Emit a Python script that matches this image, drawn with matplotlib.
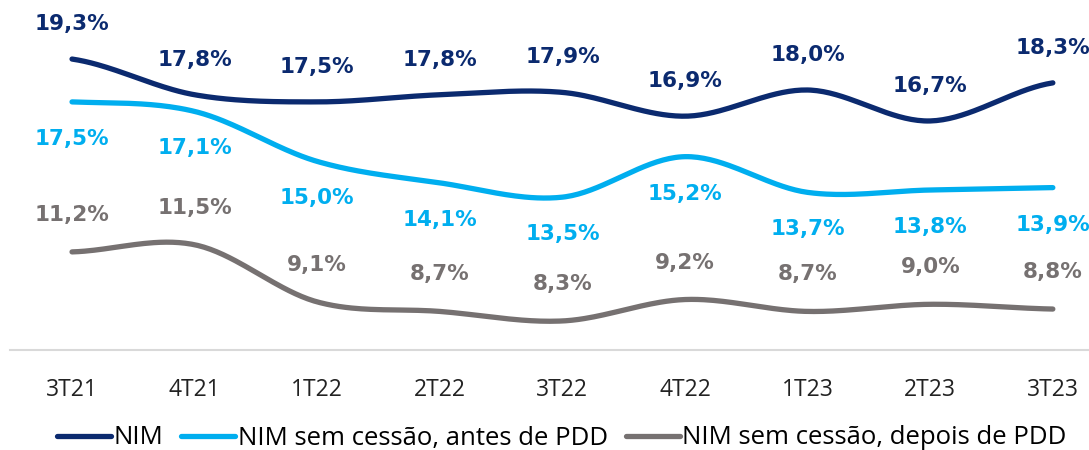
import numpy as np
import matplotlib.pyplot as plt

quarters = ['3T21', '4T21', '1T22', '2T22', '3T22', '4T22', '1T23', '2T23', '3T23']
nim = [19.3, 17.8, 17.5, 17.8, 17.9, 16.9, 18.0, 16.7, 18.3]
nim_antes = [17.5, 17.1, 15.0, 14.1, 13.5, 15.2, 13.7, 13.8, 13.9]
nim_depois = [11.2, 11.5, 9.1, 8.7, 8.3, 9.2, 8.7, 9.0, 8.8]

series_names = ['NIM', 'NIM sem cessão, antes de PDD', 'NIM sem cessão, depois de PDD']
colors = ['#0B2A6F', '#00AEEF', '#767171']
label_offsets = [35, -37, 37]  # pixels, above (+) or below (-) the line


def smooth(x, y, n=40):
    # catmull-rom through the points, like excel's smoothed lines
    x = np.asarray(x, float)
    y = np.asarray(y, float)
    px = np.concatenate([[2 * x[0] - x[1]], x, [2 * x[-1] - x[-2]]])
    py = np.concatenate([[y[0]], y, [y[-1]]])
    xs, ys = [], []
    t = np.linspace(0, 1, n)
    for i in range(1, len(px) - 2):
        p0, p1, p2, p3 = py[i - 1], py[i], py[i + 1], py[i + 2]
        q0, q1, q2, q3 = px[i - 1], px[i], px[i + 1], px[i + 2]
        # bezier control points, tension 1/6
        c1y = p1 + (p2 - p0) / 6
        c2y = p2 - (p3 - p1) / 6
        c1x = q1 + (q2 - q0) / 6
        c2x = q2 - (q3 - q1) / 6
        b = [(1 - t) ** 3, 3 * (1 - t) ** 2 * t, 3 * (1 - t) * t ** 2, t ** 3]
        xs.append(b[0] * q1 + b[1] * c1x + b[2] * c2x + b[3] * q2)
        ys.append(b[0] * p1 + b[1] * c1y + b[2] * c2y + b[3] * p2)
    return np.concatenate(xs), np.concatenate(ys)


fig = plt.figure(figsize=(10.89, 4.5), dpi=100)
ax = fig.add_axes([10 / 1089, 100 / 450, 1079 / 1089, 350 / 450])

x = np.arange(len(quarters))
for vals, name, c, off in zip([nim, nim_antes, nim_depois], series_names, colors, label_offsets):
    sx, sy = smooth(x, vals)
    ax.plot(sx, sy, color=c, lw=3.8, solid_capstyle='round', label=name)
    for xi, v in zip(x, vals):
        ax.annotate(f'{v:.1f}%'.replace('.', ','), (xi, v), xytext=(0, off),
                    textcoords='offset pixels', ha='center', va='center',
                    fontsize=15.5, fontweight='bold', color=c, family='DejaVu Sans')

ax.set_xlim(-0.506, 8.295)
ax.set_ylim(7.08, 21.78)
ax.set_xticks(x)
ax.set_xticklabels(quarters, fontsize=16.5, color='#222222', family='Open Sans')
ax.tick_params(axis='x', length=0, pad=20)
ax.set_yticks([])
for s in ['top', 'right', 'left']:
    ax.spines[s].set_visible(False)
ax.spines['bottom'].set_color('#D9D9D9')
ax.spines['bottom'].set_linewidth(1.5)
ax.patch.set_alpha(0)

fig.legend(loc='center', bbox_to_anchor=(0.516, 12 / 450), ncol=3, frameon=False,
           handlelength=2.1, handletextpad=0.1, columnspacing=0.7,
           prop={'family': 'Open Sans', 'size': 18.5})

fig.savefig('out.png', dpi=100)
